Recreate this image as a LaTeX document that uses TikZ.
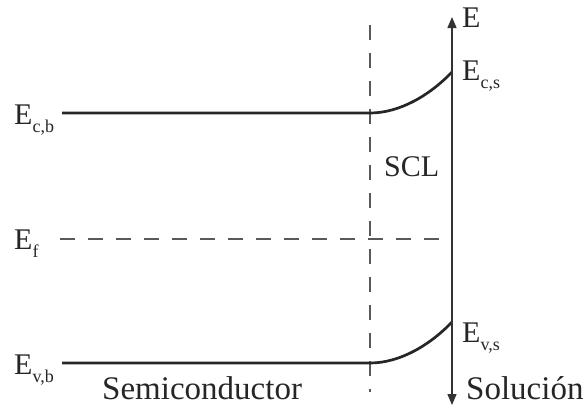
\documentclass[tikz,border=0pt]{standalone}
\usepackage{fontspec}
\setmainfont{Liberation Serif}
\usetikzlibrary{arrows.meta}
\newcommand{\lbl}[2]{#1\raisebox{-0.28em}{\fontsize{18}{18}\selectfont #2}}
\begin{document}
\begin{tikzpicture}[x=1pt,y=-1pt,
  band/.style={line width=2.7pt,color=black!85},
  dsh/.style={line width=1.5pt,color=black!65,dash pattern=on 15pt off 13pt},
  axis/.style={line width=1.4pt,color=black!80,{Triangle[length=11pt,width=9pt]}-{Triangle[length=11pt,width=9pt]}},
  lab/.style={anchor=base west,inner sep=0pt,font=\fontsize{30}{30}\selectfont,text=black!85},
  big/.style={anchor=base west,inner sep=0pt,font=\fontsize{33}{33}\selectfont,text=black!85}]
\useasboundingbox (0,0) rectangle (587,410);
% coordinates
\coordinate (cb0) at (62,113);
\coordinate (cb1) at (370,113);
\coordinate (cs) at (452,72);
\coordinate (vb0) at (62,363);
\coordinate (vb1) at (370,363);
\coordinate (vs) at (452,322);
\coordinate (f0) at (60,239);
\coordinate (f1) at (452,239);
\coordinate (d0) at (370,25);
\coordinate (d1) at (370,392);
\coordinate (atop) at (452,17);
\coordinate (abot) at (452,405);
% labels
\node[lab] (Ecb) at (14,124) {\lbl{E}{c,b}};
\node[lab] (Ef) at (14,249) {\lbl{E}{f}};
\node[lab] (Evb) at (14,374) {\lbl{E}{v,b}};
\node[lab] (E) at (462,27) {E};
\node[lab] (Ecs) at (462,80) {\lbl{E}{c,s}};
\node[lab] (Evs) at (462,342) {\lbl{E}{v,s}};
\node[lab] (SCL) at (384,176) {SCL};
\node[big] (semi) at (102,399) {Semiconductor};
\node[big] (sol) at (466,399) {Solución};
% lines
\draw[dsh] (d0) -- (d1);
\draw[dsh] (f0) -- (f1);
\draw[band] (cb0) -- (cb1) .. controls (400,113) and (430,95) .. (cs);
\draw[band] (vb0) -- (vb1) .. controls (400,363) and (430,345) .. (vs);
\draw[axis] (abot) -- (atop);
\end{tikzpicture}
\end{document}
